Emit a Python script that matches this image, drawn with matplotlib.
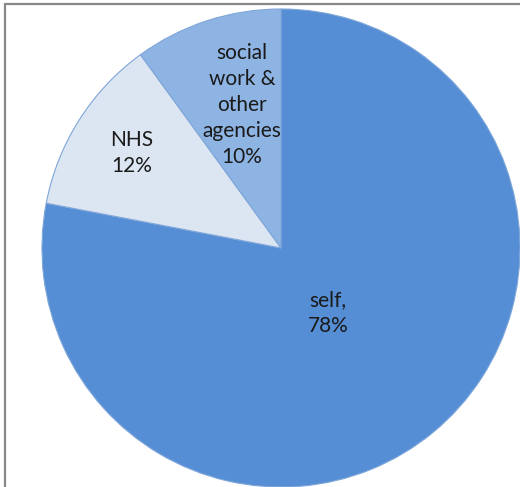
import matplotlib
matplotlib.use("Agg")
import matplotlib.pyplot as plt
from matplotlib.patches import Rectangle

# referral sources
labels = ["self,\n78%", "NHS\n12%", "social\nwork &\nother\nagencies\n10%"]
shares = [78, 12, 10]
colors = ["#558ED5", "#DCE6F2", "#8EB4E3"]
# label centres, in pie-radius units
label_pos = [(0.197, -0.272), (-0.623, 0.397), (-0.163, 0.598)]

fig = plt.figure(figsize=(5.2, 4.87), dpi=100)
ax = fig.add_axes([42 / 520, 0.0, 478 / 520, 478 / 487])

wedges, texts = ax.pie(shares, colors=colors, startangle=90, counterclock=False,
                       radius=1.0, labels=labels,
                       wedgeprops=dict(edgecolor="#7FA6D9", linewidth=0.8),
                       textprops=dict(fontsize=15, color="#1a1a1a",
                                      family=["Lato", "DejaVu Sans"],
                                      linespacing=1.38))
for t, (x, y) in zip(texts, label_pos):
    t.set_position((x, y))
    t.set_ha("center")
    t.set_va("center")

ax.set_xlim(-1, 1)
ax.set_ylim(-1, 1)
ax.set_aspect("equal")
ax.axis("off")
for w in wedges:
    w.set_clip_on(False)

# chart area border
fig.patches.append(Rectangle((5 / 520, -0.1), 1.2, 1.1 - 4 / 487,
                             transform=fig.transFigure, fill=False,
                             edgecolor="#888888", linewidth=1.6))

plt.savefig("out.png", dpi=100)
